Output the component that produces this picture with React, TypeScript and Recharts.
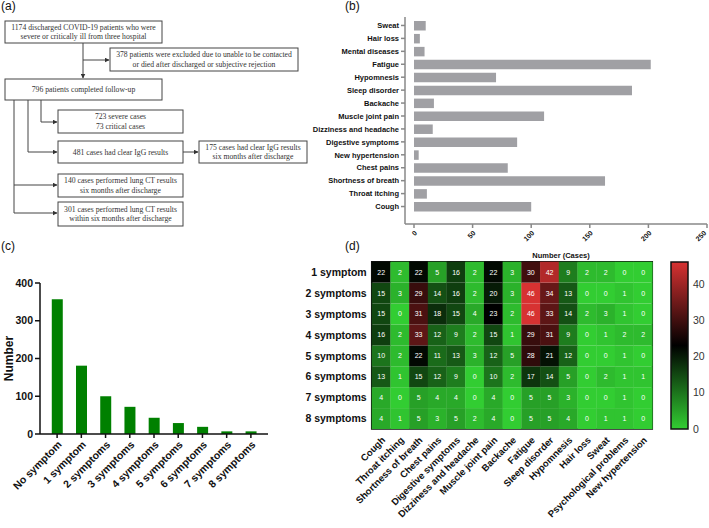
import React from 'react';
import { BarChart, Bar, XAxis, YAxis, Cell, LabelList, ReferenceArea } from 'recharts';

// (b) symptom counts, top to bottom
const symptomNames = [
  'Sweat', 'Hair loss', 'Mental diseases', 'Fatigue', 'Hypomnesis', 'Sleep disorder', 'Backache',
  'Muscle joint pain', 'Dizziness and headache', 'Digestive symptoms', 'New hypertension',
  'Chest pains', 'Shortness of breath', 'Throat itching', 'Cough',
];
const symptomCounts = [10, 5, 9, 202, 70, 186, 17, 111, 16, 88, 4, 80, 163, 11, 100];
const symptomTicks = [0, 50, 100, 150, 200, 250];

// (c) number of symptoms per patient
const groupNames = [
  'No symptom', '1 symptom', '2 symptoms', '3 symptoms', '4 symptoms',
  '5 symptoms', '6 symptoms', '7 symptoms', '8 symptoms',
];
const groupCounts = [357, 181, 100, 72, 43, 29, 19, 7, 7];
const groupTicks = [0, 100, 200, 300, 400];

// (d) heatmap
const heatColumns = [
  'Cough', 'Throat itching', 'Shortness of breath', 'Chest pains', 'Digestive symptoms',
  'Dizziness and headache', 'Muscle joint pain', 'Backache', 'Fatigue', 'Sleep disorder',
  'Hypomnesis', 'Hair loss', 'Sweat', 'Psychological problems', 'New hypertension',
];
const heatRows = ['1 symptom', '2 symptoms', '3 symptoms', '4 symptoms', '5 symptoms', '6 symptoms', '7 symptoms', '8 symptoms'];
const heatValues = [
  [22, 2, 22, 5, 16, 2, 22, 3, 30, 42, 9, 2, 2, 0, 0],
  [15, 3, 29, 14, 16, 2, 20, 3, 46, 34, 13, 0, 0, 1, 0],
  [15, 0, 31, 18, 15, 4, 23, 2, 46, 33, 14, 2, 3, 1, 0],
  [16, 2, 33, 12, 9, 2, 15, 1, 29, 31, 9, 0, 1, 2, 2],
  [10, 2, 22, 11, 13, 3, 12, 5, 28, 21, 12, 0, 0, 1, 0],
  [13, 1, 15, 12, 9, 0, 10, 2, 17, 14, 5, 0, 2, 1, 1],
  [4, 0, 5, 4, 4, 0, 4, 0, 5, 5, 3, 0, 0, 1, 0],
  [4, 1, 5, 3, 5, 2, 4, 0, 5, 5, 4, 0, 1, 1, 0],
];
const colorTicks = [0, 10, 20, 30, 40];
const colorMax = 46;

const SANS = "'Liberation Sans', Arial, sans-serif";
const SERIF = "'Liberation Serif', 'Times New Roman', serif";
const GREEN = [50, 205, 50];
const RED = [215, 50, 50];

function heatColor(v: number) {
  const mid = colorMax / 2;
  let c: number[];
  if (v <= mid) {
    const t = v / mid;
    c = GREEN.map((g) => g * (1 - t));
  } else {
    const t = (v - mid) / mid;
    c = RED.map((r) => r * t);
  }
  return `rgb(${c.map(Math.round).join(',')})`;
}

const symptomData = symptomNames.map((name, i) => ({ name, value: symptomCounts[i] }));
const groupData = groupNames.map((name, i) => ({ name, value: groupCounts[i] }));
const heatData = heatColumns.map((name, ci) => {
  const row: any = { name };
  heatRows.forEach((_, ri) => {
    row[`s${ri}`] = 1;
    row[`v${ri}`] = heatValues[ri][ci];
  });
  return row;
});
const colorData = [{ name: 'scale', value: colorMax }];

const rowLabel = (v: number) => heatRows[heatRows.length - 1 - Math.floor(v)];

// single-line y tick (the built-in one wraps long labels)
const LeftTick = (fontSize: number, format?: (v: any) => string) => (props: any) => {
  const { x, y, payload } = props;
  return (
    <text x={x} y={y} dy="0.36em" textAnchor="end" fontFamily={SANS} fontSize={fontSize} fontWeight="bold" fill="#111">
      {format ? format(payload.value) : payload.value}
    </text>
  );
};

const boxes = [
  { x: 5, y: 21, w: 157, h: 22, lines: ['1174 discharged COVID-19 patients who were', 'severe or critically ill from three hospital'] },
  { x: 110, y: 48, w: 188, h: 23, lines: ['378 patients were excluded due to unable to be contacted', 'or died after discharged or subjective rejection'] },
  { x: 5, y: 79, w: 157, h: 21, lines: ['796 patients completed follow-up'] },
  { x: 58, y: 110, w: 125, h: 23, lines: ['723 severe cases', '73 critical cases'] },
  { x: 58, y: 141, w: 125, h: 22, lines: ['481 cases had clear IgG results'] },
  { x: 199, y: 141, w: 108, h: 22, lines: ['175 cases had clear IgG results', 'six months after discharge'] },
  { x: 58, y: 174, w: 125, h: 23, lines: ['140 cases performed lung CT results', 'six months after discharge'] },
  { x: 58, y: 202, w: 125, h: 24, lines: ['301 cases performed lung CT results', 'within six months after discharge'] },
];

const arrows = [
  'M83,43 L83,78',
  'M83,60 L109,60',
  'M41,100 L41,122 L57,122',
  'M28,100 L28,152 L57,152',
  'M14,100 L14,213 L57,213',
  'M14,185 L57,185',
  'M183,152 L198,152',
];

const Flowchart = () => (
  <svg width={340} height={240} style={{ position: 'absolute', left: 0, top: 0 }}>
    <defs>
      <marker id="arr" markerWidth="5" markerHeight="5" refX="4.5" refY="2.5" orient="auto" markerUnits="userSpaceOnUse">
        <path d="M0,0 L5,2.5 L0,5 z" fill="#333" />
      </marker>
    </defs>
    {boxes.map((b, i) => (
      <g key={i}>
        <rect x={b.x} y={b.y} width={b.w} height={b.h} fill="#fff" stroke="#444" strokeWidth={1} />
        {b.lines.map((t, j) => (
          <text
            key={j}
            x={b.x + b.w / 2}
            y={b.y + b.h / 2 + (j - (b.lines.length - 1) / 2) * 9.5}
            textAnchor="middle"
            dominantBaseline="central"
            fontFamily={SERIF}
            fontSize={7.7}
            fill="#333"
          >
            {t}
          </text>
        ))}
      </g>
    ))}
    {arrows.map((d, i) => (
      <path key={i} d={d} fill="none" stroke="#444" strokeWidth={1} markerEnd="url(#arr)" />
    ))}
  </svg>
);

const panelLabel = (text: string, left: number, top: number) => (
  <div style={{ position: 'absolute', left, top, fontFamily: SANS, fontSize: 12, lineHeight: '12px', color: '#111' }}>{text}</div>
);

export default function App() {
  return (
    <div style={{ position: 'absolute', left: 0, top: 0, width: 709, height: 528, background: '#fff', overflow: 'hidden' }}>
      {panelLabel('(a)', 1, 0)}
      {panelLabel('(b)', 345, 0)}
      {panelLabel('(c)', 1, 240)}
      {panelLabel('(d)', 345, 240)}
      <Flowchart />

      {/* (b) horizontal bars */}
      <div style={{ position: 'absolute', left: 300, top: 0 }}>
        <BarChart width={409} height={246} data={symptomData} layout="vertical" margin={{ top: 17, right: 2, bottom: 0, left: 0 }}>
          <XAxis
            type="number"
            domain={[0, 250]}
            ticks={symptomTicks}
            padding={{ left: 9, right: 0 }}
            height={22}
            stroke="#888"
            strokeWidth={1.5}
            tickSize={4}
            angle={-45}
            textAnchor="end"
            tick={{ fill: '#111', fontSize: 7, fontWeight: 'bold', fontFamily: SANS }}
          />
          <YAxis
            type="category"
            dataKey="name"
            width={105}
            interval={0}
            padding={{ top: 2, bottom: 11 }}
            stroke="#888"
            strokeWidth={1.5}
            tickSize={4}
            tick={LeftTick(7.5)}
          />
          <Bar dataKey="value" fill="#a0a0a4" barSize={9.5} isAnimationActive={false} />
        </BarChart>
      </div>

      {/* (c) vertical bars */}
      <div style={{ position: 'absolute', left: 0, top: 262 }}>
        <BarChart width={280} height={266} data={groupData} margin={{ top: 21, right: 12, bottom: 0, left: 0 }} barCategoryGap="28%">
          <XAxis
            dataKey="name"
            interval={0}
            padding={{ left: 5, right: 5 }}
            height={94}
            stroke="#111"
            strokeWidth={1.5}
            tickSize={4}
            angle={-45}
            textAnchor="end"
            tick={{ fill: '#111', fontSize: 10.5, fontWeight: 'bold', fontFamily: SANS }}
          />
          <YAxis
            domain={[0, 400]}
            ticks={groupTicks}
            width={40}
            stroke="#111"
            strokeWidth={1.5}
            tickSize={5}
            tick={{ fill: '#111', fontSize: 10.5, fontWeight: 'bold', fontFamily: SANS }}
            label={{ value: 'Number', angle: -90, position: 'insideLeft', offset: 9, fill: '#111', fontSize: 12, fontWeight: 'bold', fontFamily: SANS, style: { textAnchor: 'middle' } }}
          />
          <Bar dataKey="value" fill="#008000" isAnimationActive={false} />
        </BarChart>
      </div>

      {/* (d) heatmap */}
      <div style={{ position: 'absolute', left: 300, top: 250 }}>
        <BarChart width={409} height={278} data={heatData} margin={{ top: 11.7, right: 56.7, bottom: 0, left: 0 }} barCategoryGap={0}>
          <XAxis
            dataKey="name"
            interval={0}
            height={99}
            axisLine={false}
            tickLine={false}
            tickSize={5}
            angle={-45}
            textAnchor="end"
            tick={{ fill: '#111', fontSize: 9.5, fontWeight: 'bold', fontFamily: SANS }}
          />
          <YAxis
            type="number"
            domain={[0, heatRows.length]}
            ticks={heatRows.map((_, i) => i + 0.5)}
            interval={0}
            width={71.7}
            axisLine={false}
            tickLine={false}
            tickSize={3}
            tick={LeftTick(10.5, rowLabel)}
          />
          {heatRows.map((_, k) => {
            const ri = heatRows.length - 1 - k;
            return (
              <Bar key={ri} dataKey={`s${ri}`} stackId="h" isAnimationActive={false}>
                {heatData.map((_, ci) => (
                  <Cell key={ci} fill={heatColor(heatValues[ri][ci])} />
                ))}
                <LabelList dataKey={`v${ri}`} position="center" fill="#fff" fontSize={7} fontFamily={SANS} />
              </Bar>
            );
          })}
          <ReferenceArea
            x1={heatColumns[0]}
            x2={heatColumns[heatColumns.length - 1]}
            y1={0}
            y2={heatRows.length}
            fill="none"
            fillOpacity={0}
            stroke="#111"
            strokeWidth={1.5}
            ifOverflow="visible"
          />
        </BarChart>
      </div>
      <div style={{ position: 'absolute', left: 511, top: 251, width: 100, textAlign: 'center', fontFamily: SANS, fontSize: 7.5, fontWeight: 'bold', color: '#111' }}>
        Number (Cases)
      </div>

      {/* (d) colour scale */}
      <div style={{ position: 'absolute', left: 660, top: 250 }}>
        <BarChart width={49} height={278} data={colorData} margin={{ top: 12, right: 0, bottom: 99, left: 11 }} barCategoryGap={0}>
          <defs>
            <linearGradient id="heatGrad" x1="0" y1="1" x2="0" y2="0">
              <stop offset="0%" stopColor={heatColor(0)} />
              <stop offset="50%" stopColor={heatColor(colorMax / 2)} />
              <stop offset="100%" stopColor={heatColor(colorMax)} />
            </linearGradient>
          </defs>
          <XAxis dataKey="name" hide />
          <YAxis
            orientation="right"
            domain={[0, colorMax]}
            ticks={colorTicks}
            width={21}
            axisLine={false}
            tickLine={false}
            tickSize={3}
            tick={{ fill: '#333', fontSize: 10.5, fontFamily: SANS }}
          />
          <Bar dataKey="value" fill="url(#heatGrad)" stroke="#111" strokeWidth={1.5} isAnimationActive={false} />
        </BarChart>
      </div>
    </div>
  );
}
